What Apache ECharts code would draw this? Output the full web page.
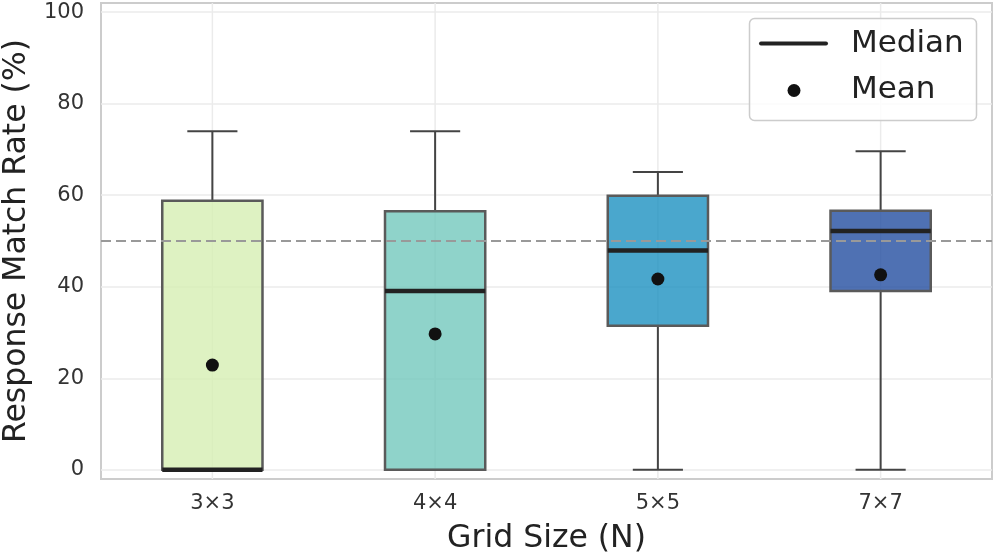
<!DOCTYPE html>
<html lang="en">
<head>
    <meta charset="UTF-8">
    <title>Response Match Rate</title>
    <script src="https://cdn.jsdelivr.net/npm/echarts@6/dist/echarts.min.js"></script>
    <style>
        html, body { margin: 0; padding: 0; background: #fff; }
        #chart { width: 995px; height: 560px; }
    </style>
</head>
<body>
<div id="chart"></div>
<script>
    // data
    var categories = ['3×3', '4×4', '5×5', '7×7'];
    var whiskerLow = [0, 0, 0, 0];
    var q1 = [0, 0, 31.5, 39.1];
    var median = [0, 39.1, 47.9, 52.2];
    var q3 = [58.8, 56.5, 59.9, 56.6];
    var whiskerHigh = [74, 74, 65.1, 69.6];
    var means = [22.9, 29.7, 41.7, 42.6];
    var boxColors = ['rgba(214,239,179,0.8)', 'rgba(115,200,189,0.8)', 'rgba(29,145,192,0.8)', 'rgba(35,77,160,0.8)'];
    var yTicks = [0, 20, 40, 60, 80, 100];
    var reference = 50;

    var font = 'DejaVu Sans';
    var chart = echarts.init(document.getElementById('chart'));

    var boxData = categories.map(function (c, i) {
        return [i, whiskerLow[i], q1[i], median[i], q3[i], whiskerHigh[i]];
    });

    // vertical grid lines sit at the category centres
    function renderGridLine(params, api) {
        var cs = params.coordSys;
        var x = api.coord([api.value(0), 0])[0];
        return {
            type: 'line',
            shape: { x1: x, y1: cs.y, x2: x, y2: cs.y + cs.height },
            style: { stroke: '#ebebeb', lineWidth: 1.5 },
            silent: true
        };
    }

    function renderBox(params, api) {
        var i = api.value(0);
        var w = api.size([1, 0])[0] * 0.45;
        var pLow = api.coord([i, api.value(1)]);
        var pQ1 = api.coord([i, api.value(2)]);
        var pMed = api.coord([i, api.value(3)]);
        var pQ3 = api.coord([i, api.value(4)]);
        var pHigh = api.coord([i, api.value(5)]);
        var x = pQ1[0];
        var wStyle = { stroke: '#444', lineWidth: 2 };
        return {
            type: 'group',
            children: [
                { type: 'line', shape: { x1: x, y1: pQ3[1], x2: x, y2: pHigh[1] }, style: wStyle },
                { type: 'line', shape: { x1: x, y1: pQ1[1], x2: x, y2: pLow[1] }, style: wStyle },
                { type: 'line', shape: { x1: x - w / 4, y1: pHigh[1], x2: x + w / 4, y2: pHigh[1] }, style: wStyle },
                { type: 'line', shape: { x1: x - w / 4, y1: pLow[1], x2: x + w / 4, y2: pLow[1] }, style: wStyle },
                {
                    type: 'rect',
                    shape: { x: x - w / 2, y: pQ3[1], width: w, height: pQ1[1] - pQ3[1] },
                    style: { fill: boxColors[i], stroke: '#5a5a5a', lineWidth: 2.5 }
                },
                { type: 'line', shape: { x1: x - w / 2, y1: pMed[1], x2: x + w / 2, y2: pMed[1] }, style: { stroke: '#222', lineWidth: 4.5 } }
            ]
        };
    }

    var option = {
        animation: false,
        grid: {
            left: 101, right: 3, top: 3, bottom: 81,
            outerBoundsMode: 'none',
            containLabel: false,
            show: true, borderColor: '#cccccc', borderWidth: 2
        },
        xAxis: {
            type: 'category',
            data: categories,
            name: 'Grid Size (N)',
            nameLocation: 'middle',
            nameGap: 44,
            nameTextStyle: { fontFamily: font, fontSize: 31.5, color: '#222' },
            axisLine: { show: false },
            axisTick: { show: false },
            splitLine: { show: false },
            axisLabel: { fontFamily: font, fontSize: 21, color: '#333', margin: 14 }
        },
        yAxis: {
            type: 'value',
            min: -2,
            max: 102,
            name: 'Response Match Rate (%)',
            nameLocation: 'middle',
            nameGap: 66,
            nameTextStyle: { fontFamily: font, fontSize: 31.5, color: '#222' },
            axisLine: { show: false },
            axisTick: { show: false, customValues: yTicks },
            axisLabel: { fontFamily: font, fontSize: 21, color: '#333', margin: 17, customValues: yTicks },
            splitLine: { show: true, lineStyle: { color: '#ebebeb', width: 1.5 } }
        },
        series: [
            {
                type: 'custom',
                name: 'grid',
                z: 1,
                renderItem: renderGridLine,
                data: categories.map(function (c, i) { return [i]; }),
                markLine: {
                    silent: true,
                    symbol: 'none',
                    label: { show: false },
                    lineStyle: { color: '#999', width: 2, type: [10, 5] },
                    data: [{ yAxis: reference }]
                }
            },
            {
                type: 'custom',
                name: 'box',
                z: 3,
                renderItem: renderBox,
                encode: { x: 0, y: [1, 2, 3, 4, 5] },
                data: boxData
            },
            {
                type: 'scatter',
                name: 'Mean',
                z: 5,
                symbolSize: 13,
                itemStyle: { color: '#111', opacity: 1 },
                data: means.map(function (m, i) { return [i, m]; })
            }
        ],
        graphic: [
            {
                type: 'rect', z: 10,
                shape: { x: 749.5, y: 18.5, width: 227, height: 102, r: 5 },
                style: { fill: 'rgba(255,255,255,0.85)', stroke: '#cccccc', lineWidth: 1.5 }
            },
            {
                type: 'line', z: 11,
                shape: { x1: 761, y1: 43.5, x2: 826, y2: 43.5 },
                style: { stroke: '#222', lineWidth: 4, lineCap: 'round' }
            },
            {
                type: 'circle', z: 11,
                shape: { cx: 794, cy: 90.5, r: 6.5 },
                style: { fill: '#111' }
            },
            {
                type: 'text', z: 11, x: 851, y: 44,
                style: { text: 'Median', font: '31px "DejaVu Sans"', fill: '#222', verticalAlign: 'middle' }
            },
            {
                type: 'text', z: 11, x: 851, y: 90,
                style: { text: 'Mean', font: '31px "DejaVu Sans"', fill: '#222', verticalAlign: 'middle' }
            }
        ]
    };

    chart.setOption(option);
</script>
</body>
</html>
